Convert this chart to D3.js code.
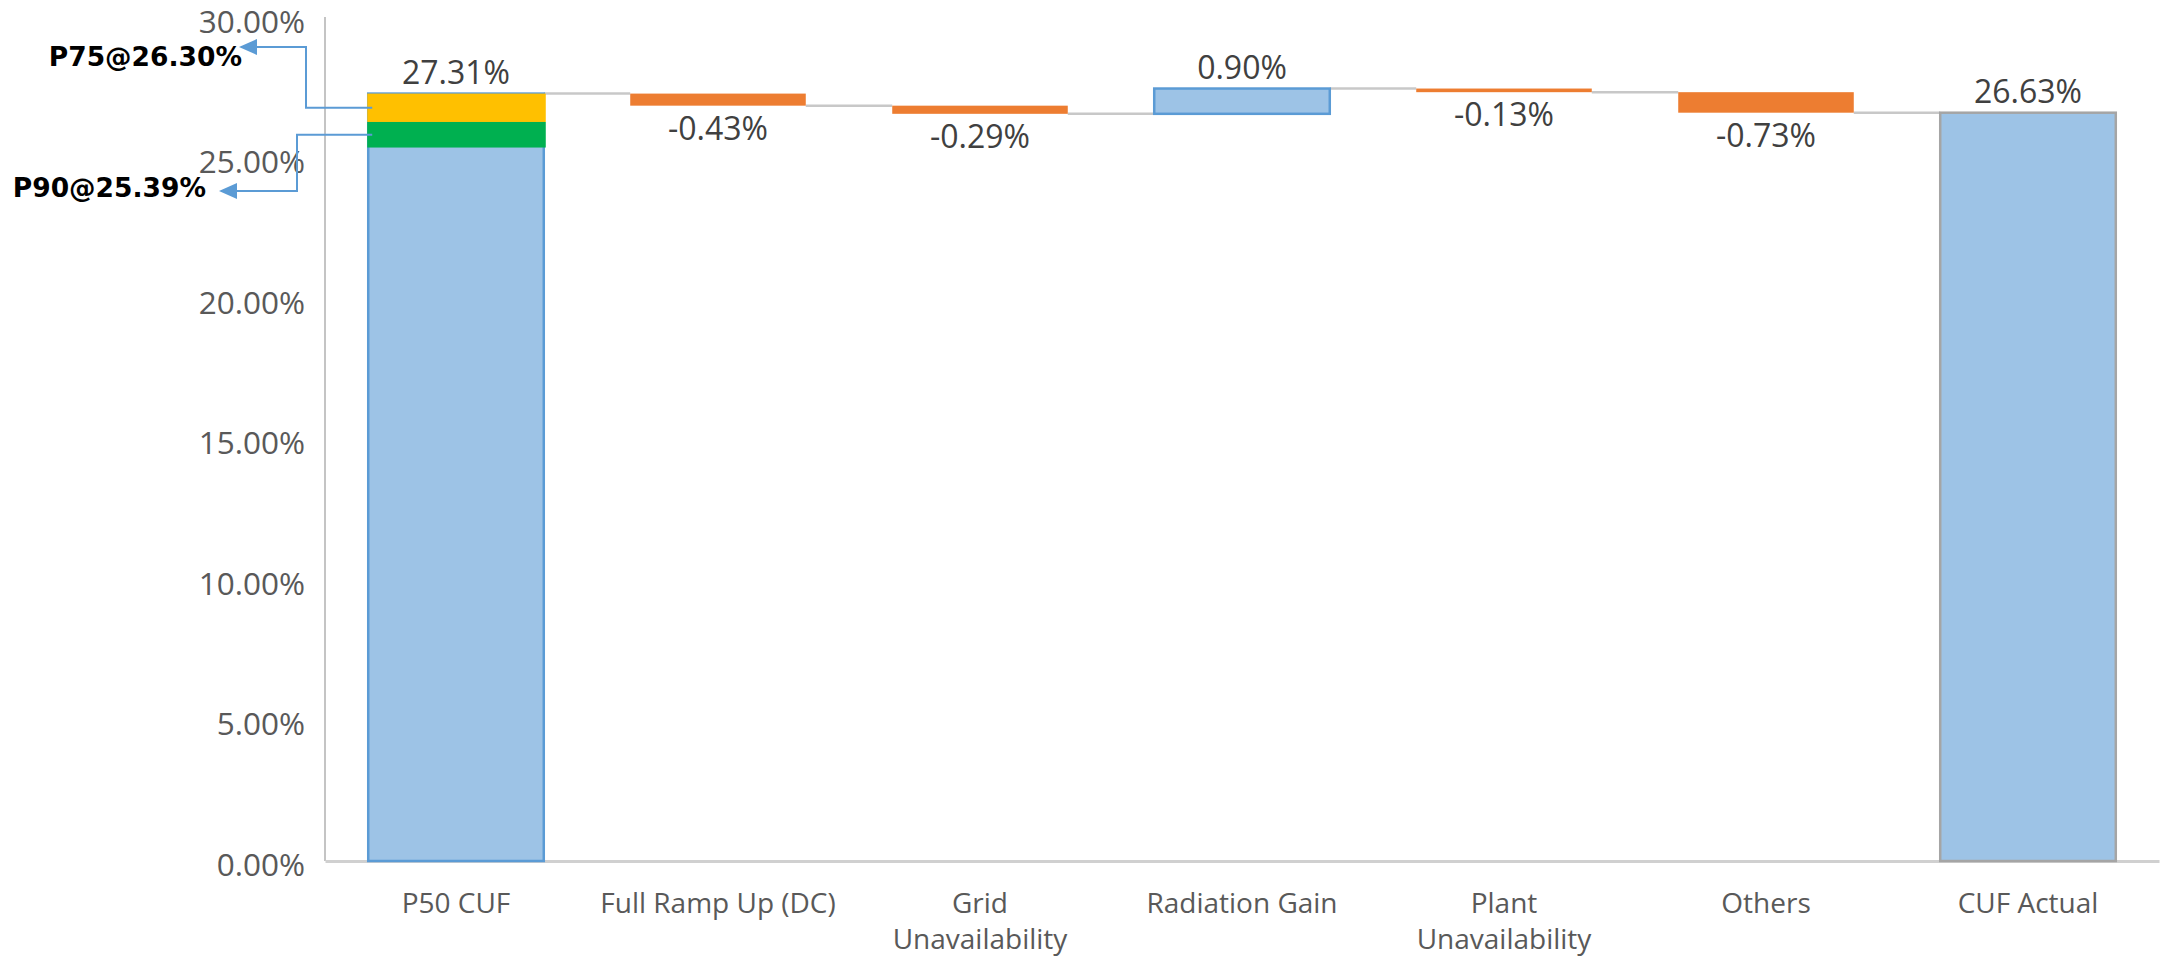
<!DOCTYPE html>
<html>
<head>
<meta charset="utf-8">
<script src="https://cdn.jsdelivr.net/npm/d3@7"></script>
<style>
  html, body { margin: 0; background: #ffffff; }
  svg { display: block; }
</style>
</head>
<body>
<svg id="chart" width="2166" height="958"></svg>
<script>
// CUF bridge: P50 estimate to actual, step by step
const categories = ["P50 CUF", "Full Ramp Up (DC)", "Grid\nUnavailability", "Radiation Gain",
                    "Plant\nUnavailability", "Others", "CUF Actual"];
const stepValues = [27.31, -0.43, -0.29, 0.90, -0.13, -0.73, 26.63];
const stepKinds  = ["start", "delta", "delta", "delta", "delta", "delta", "end"];
const p75Value = 26.30;
const p90Value = 25.39;
const yTickValues = [0, 5, 10, 15, 20, 25, 30];

const W = 2166, H = 958;
const margin = { top: 18, right: 7, bottom: 97, left: 325 };

const svg = d3.select("#chart");

const x = d3.scaleBand()
  .domain(categories)
  .range([margin.left, W - margin.right])
  .paddingInner(0.33)
  .paddingOuter(0.165);

const y = d3.scaleLinear()
  .domain([0, 30])
  .range([H - margin.bottom, margin.top]);

const bw = x.bandwidth();
const pct = v => v.toFixed(2) + "%";

// running totals for the waterfall
let running = 0;
const bars = categories.map((c, i) => {
  const v = stepValues[i], kind = stepKinds[i];
  let start, end;
  if (kind === "delta") { start = running; end = running + v; }
  else { start = 0; end = v; }
  running = end;
  return { cat: c, value: v, kind, start, end };
});

// ---- axes ----
const yAxis = d3.axisLeft(y)
  .tickValues(yTickValues)
  .tickFormat(pct)
  .tickSize(0)
  .tickPadding(20);

const gy = svg.append("g")
  .attr("transform", `translate(${margin.left},0)`)
  .call(yAxis);
gy.select(".domain").remove();
gy.selectAll("text")
  .attr("dy", "0.45em")
  .style("font-family", "'Open Sans', sans-serif")
  .style("font-size", "31.5px")
  .style("fill", "#595959");

svg.append("line")
  .attr("x1", margin.left).attr("x2", margin.left)
  .attr("y1", y(30) - 1).attr("y2", y(0))
  .attr("stroke", "#c4c4c4").attr("stroke-width", 2);

const xAxis = d3.axisBottom(x).tickSize(0).tickSizeOuter(0).tickPadding(0);
const gx = svg.append("g")
  .attr("transform", `translate(0,${y(0)})`)
  .call(xAxis);
gx.select(".domain")
  .attr("stroke", "#d0d0d0")
  .attr("stroke-width", 3);
gx.selectAll(".tick text").each(function(d) {
  const t = d3.select(this);
  t.text(null).attr("y", 0).attr("dy", null);
  d.split("\n").forEach((line, k) => {
    t.append("tspan")
      .attr("x", 0)
      .attr("y", 52 + k * 36)
      .text(line);
  });
})
  .style("font-family", "'Open Sans', sans-serif")
  .style("font-size", "28px")
  .style("fill", "#595959");

// ---- connectors between consecutive bars ----
svg.append("g")
  .selectAll("line")
  .data(bars.slice(0, -1))
  .join("line")
  .attr("x1", d => x(d.cat) + bw)
  .attr("x2", (d, i) => x(bars[i + 1].cat))
  .attr("y1", d => y(d.end))
  .attr("y2", d => y(d.end))
  .attr("stroke", "#c8c8c8")
  .attr("stroke-width", 2.5);

// ---- bars ----
function fillOf(d) {
  if (d.kind === "delta" && d.value < 0) return "#ed7d31";
  return "#9dc3e6";
}
function strokeOf(d) {
  if (d.kind === "end") return "#a5a5a5";
  if (d.kind === "delta" && d.value < 0) return "none";
  return "#5b9bd5";
}

svg.append("g")
  .selectAll("rect")
  .data(bars)
  .join("rect")
  .attr("x", d => x(d.cat))
  .attr("width", bw)
  .attr("y", d => y(Math.max(d.start, d.end)))
  .attr("height", d => Math.abs(y(d.start) - y(d.end)))
  .attr("fill", fillOf)
  .attr("stroke", strokeOf)
  .attr("stroke-width", 2.5);

// ---- P50 / P75 / P90 bands on the first bar ----
const first = bars[0];
const bands = [
  { name: "P75", top: first.value, bottom: p75Value, color: "#ffc000" },
  { name: "P90", top: p75Value,    bottom: p90Value, color: "#00b050" }
];
svg.append("g")
  .selectAll("rect")
  .data(bands)
  .join("rect")
  .attr("x", x(first.cat) - 1)
  .attr("width", bw + 3)
  .attr("y", d => y(d.top))
  .attr("height", d => y(d.bottom) - y(d.top))
  .attr("fill", d => d.color);

// ---- value labels ----
svg.append("g")
  .selectAll("text")
  .data(bars)
  .join("text")
  .attr("x", d => x(d.cat) + bw / 2)
  .attr("y", d => (d.kind === "delta" && d.value < 0)
      ? y(Math.min(d.start, d.end)) + 34
      : y(Math.max(d.start, d.end)) - 10)
  .attr("text-anchor", "middle")
  .style("font-family", "'Open Sans', sans-serif")
  .style("font-size", "32px")
  .style("fill", "#404040")
  .text(d => pct(d.value));

// ---- P75 / P90 call-outs ----
const defs = svg.append("defs");
defs.append("marker")
  .attr("id", "arrowHead")
  .attr("markerUnits", "userSpaceOnUse")
  .attr("viewBox", "0 0 18 16")
  .attr("markerWidth", 18).attr("markerHeight", 16)
  .attr("refX", 16).attr("refY", 8)
  .attr("orient", "auto")
  .append("path")
  .attr("d", "M0,0 L18,8 L0,16 Z")
  .attr("fill", "#5b9bd5");

const barLeft = x(first.cat);
const calls = [
  { label: "P75@" + pct(p75Value), yMid: (y(bands[0].top) + y(bands[0].bottom)) / 2,
    elbowX: margin.left - 19, tipY: 47, tipX: 241, labelX: 242, labelY: 66 },
  { label: "P90@" + pct(p90Value), yMid: (y(bands[1].top) + y(bands[1].bottom)) / 2,
    elbowX: margin.left - 28, tipY: 191, tipX: 221, labelX: 206, labelY: 197 }
];

svg.append("g")
  .selectAll("path")
  .data(calls)
  .join("path")
  .attr("d", d => `M${barLeft + 4},${d.yMid} H${d.elbowX} V${d.tipY} H${d.tipX}`)
  .attr("fill", "none")
  .attr("stroke", "#5b9bd5")
  .attr("stroke-width", 2)
  .attr("marker-end", "url(#arrowHead)");

svg.append("g")
  .selectAll("text")
  .data(calls)
  .join("text")
  .attr("x", d => d.labelX)
  .attr("y", d => d.labelY)
  .attr("text-anchor", "end")
  .style("font-family", "'DejaVu Sans', sans-serif")
  .style("font-weight", "bold")
  .style("font-size", "26.5px")
  .style("fill", "#000000")
  .text(d => d.label);
</script>
</body>
</html>
